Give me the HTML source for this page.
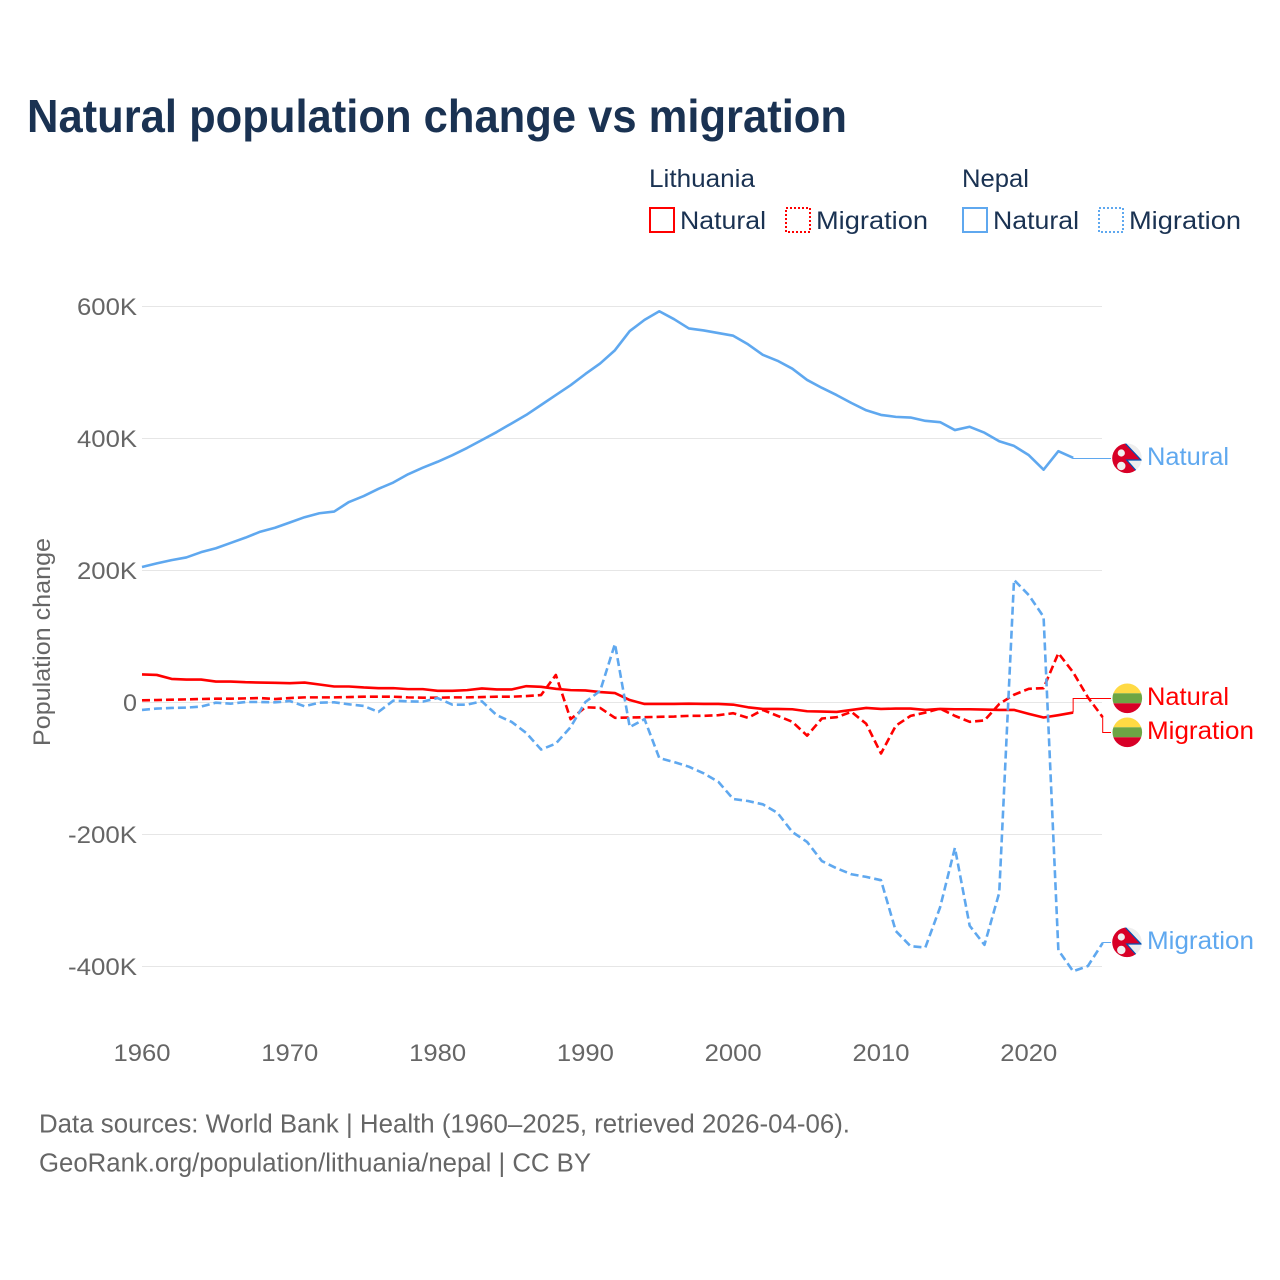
<!DOCTYPE html>
<html lang="en">
<head>
<meta charset="utf-8">
<title>Natural population change vs migration</title>
<style>
html,body{margin:0;padding:0;background:#fff}
svg{display:block}
text{font-family:"Liberation Sans",sans-serif}
</style>
</head>
<body>
<svg id="chart" xmlns="http://www.w3.org/2000/svg" width="1280" height="1280" viewBox="0 0 1280 1280">
  <defs>
    <clipPath id="flag-clip-a"><circle cx="1127" cy="458.3" r="14.8"/></clipPath>
    <clipPath id="flag-clip-b"><circle cx="1127.3" cy="698.3" r="14.8"/></clipPath>
    <clipPath id="flag-clip-c"><circle cx="1127.3" cy="732.3" r="14.8"/></clipPath>
    <clipPath id="flag-clip-d"><circle cx="1127" cy="942.3" r="14.8"/></clipPath>
  </defs>
  <rect x="0" y="0" width="1280" height="1280" fill="#ffffff"/>
  <text x="27" y="132" font-size="46" font-weight="700" fill="#1a3252" textLength="820" lengthAdjust="spacingAndGlyphs">Natural population change vs migration</text>

  <g font-size="25" fill="#1a3252">
    <text x="649" y="187" textLength="106" lengthAdjust="spacingAndGlyphs">Lithuania</text>
    <text x="962" y="187" textLength="67" lengthAdjust="spacingAndGlyphs">Nepal</text>
    <rect x="650" y="208" width="24" height="24" fill="none" stroke="#ff0000" stroke-width="2"/>
    <text x="680" y="229" textLength="86" lengthAdjust="spacingAndGlyphs">Natural</text>
    <rect x="786" y="208" width="24" height="24" fill="none" stroke="#ff0000" stroke-width="2" stroke-dasharray="2,2"/>
    <text x="816" y="229" textLength="112" lengthAdjust="spacingAndGlyphs">Migration</text>
    <rect x="963" y="208" width="24" height="24" fill="none" stroke="#5fa8ef" stroke-width="2"/>
    <text x="993" y="229" textLength="86" lengthAdjust="spacingAndGlyphs">Natural</text>
    <rect x="1099" y="208" width="24" height="24" fill="none" stroke="#5fa8ef" stroke-width="2" stroke-dasharray="2,2"/>
    <text x="1129" y="229" textLength="112" lengthAdjust="spacingAndGlyphs">Migration</text>
  </g>

  <g id="grid"></g>
  <g id="y-ticks"></g>
  <g id="x-ticks"></g>
  <text transform="translate(50,746) rotate(-90)" font-size="24" fill="#666666" textLength="208" lengthAdjust="spacingAndGlyphs">Population change</text>
  <g id="series"></g>

  <g clip-path="url(#flag-clip-a)">
    <circle cx="1127" cy="458.3" r="15" fill="#eeeeee"/>
    <polygon points="1110,440 1125,443 1141,460 1126.7,460 1137.3,472 1137.3,476 1110,476" fill="#d80027" stroke="none"/>
    <polyline points="1125,443 1141,460 1126.7,460 1137.3,472" fill="none" stroke="#0052b4" stroke-width="1.2"/>
    <circle cx="1121.3" cy="453" r="3.6" fill="#f0f0f0"/>
    <circle cx="1121.3" cy="466" r="4.2" fill="#f0f0f0"/>
  </g>
  <g clip-path="url(#flag-clip-b)">
    <rect x="1112" y="683" width="31" height="10.3" fill="#ffda44"/>
    <rect x="1112" y="693.3" width="31" height="10" fill="#6da544"/>
    <rect x="1112" y="703.3" width="31" height="11" fill="#d80027"/>
  </g>
  <g clip-path="url(#flag-clip-c)">
    <rect x="1112" y="717" width="31" height="10.3" fill="#ffda44"/>
    <rect x="1112" y="727.3" width="31" height="10" fill="#6da544"/>
    <rect x="1112" y="737.3" width="31" height="11" fill="#d80027"/>
  </g>
  <g clip-path="url(#flag-clip-d)">
    <circle cx="1127" cy="942.3" r="15" fill="#eeeeee"/>
    <polygon points="1110,924 1125,927 1141,944 1126.7,944 1137.3,956 1137.3,960 1110,960" fill="#d80027" stroke="none"/>
    <polyline points="1125,927 1141,944 1126.7,944 1137.3,956" fill="none" stroke="#0052b4" stroke-width="1.2"/>
    <circle cx="1121.3" cy="937" r="3.6" fill="#f0f0f0"/>
    <circle cx="1121.3" cy="950" r="4.2" fill="#f0f0f0"/>
  </g>

  <text x="1147" y="465" font-size="25" fill="#5fa8ef" textLength="82" lengthAdjust="spacingAndGlyphs">Natural</text>
  <text x="1147" y="705" font-size="25" fill="#ff0000" textLength="82" lengthAdjust="spacingAndGlyphs">Natural</text>
  <text x="1147" y="739" font-size="25" fill="#ff0000" textLength="107" lengthAdjust="spacingAndGlyphs">Migration</text>
  <text x="1147" y="949" font-size="25" fill="#5fa8ef" textLength="107" lengthAdjust="spacingAndGlyphs">Migration</text>

  <text x="39" y="1132.5" font-size="25.5" fill="#666666" textLength="811" lengthAdjust="spacingAndGlyphs">Data sources: World Bank | Health (1960–2025, retrieved 2026-04-06).</text>
  <text x="39" y="1171.5" font-size="25.5" fill="#666666" textLength="552" lengthAdjust="spacingAndGlyphs">GeoRank.org/population/lithuania/nepal | CC BY</text>
</svg>
<script>
const years = [1960,1961,1962,1963,1964,1965,1966,1967,1968,1969,1970,1971,1972,1973,1974,1975,1976,1977,1978,1979,1980,1981,1982,1983,1984,1985,1986,1987,1988,1989,1990,1991,1992,1993,1994,1995,1996,1997,1998,1999,2000,2001,2002,2003,2004,2005,2006,2007,2008,2009,2010,2011,2012,2013,2014,2015,2016,2017,2018,2019,2020,2021,2022,2023,2024,2025];
const lithuaniaNatural = [41.7,41,35,34,34,31,31,30,29.5,29,28.5,29.5,26.5,23.5,23.5,22,21,21,19.5,19.5,17,17,18,20.5,19,19,24,23,20,18,17.5,15,13.5,3,-3,-3,-3,-2.5,-3,-3,-4,-8,-10.5,-10.5,-11,-14,-14.5,-15,-12,-9,-10.5,-10,-10,-12,-10.5,-11,-11,-11.5,-12,-12,-18,-23.5,-20,-16];
const lithuaniaMigration = [2.5,3,3.5,4,4.5,5,5,5.5,6,4.5,6,7,7,7,7.5,8,8,8,7,6.5,6.5,7,7,7.5,8,8,9,10.5,41,-26,-8,-9,-24,-23.5,-23,-22.5,-22,-21,-21,-20,-17,-24,-12,-21,-30,-51,-25,-23,-15,-33,-78,-36,-21,-16,-10,-21,-30,-28,-3,11,20,21,74,45,7,-23];
const nepalNatural = [204.5,210,215,219,227,233,241,249,258,264,272,280,286,288.5,303,312,323,332.5,345,355,364,374,385,397,409,422,435,450,465,480,497,513,533,562,579,592,580,566,563,559,555,542,526,517,505,488,476,465,453,442,435,432,431,426,424,412,417,408,395,388,374,352,380,370];
const nepalMigration = [-12,-10,-9,-8.5,-7,-1,-2.5,0,0,-0.5,1.5,-6.5,-1,-0.5,-3.5,-6,-15,2,1,0.5,6,-4,-4,1,-20,-30,-47,-72,-63,-38,0,17,88,-38,-26,-85,-91,-98,-108,-121,-147,-150,-155,-168,-197,-212,-241,-252,-261,-265,-270,-347,-370,-372,-311,-221,-339,-368,-289,185,162,129,-376,-408,-400,-365];
const yTickValues = [600,400,200,0,-200,-400];
const yTickLabels = ["600K","400K","200K","0","-200K","-400K"];
const xTickValues = [1960,1970,1980,1990,2000,2010,2020];
const xTickLabels = ["1960","1970","1980","1990","2000","2010","2020"];

const SVG_NS = "http://www.w3.org/2000/svg";
const RED = "#ff0000";
const BLUE = "#5fa8ef";
const DASH = "8,4";
const LINE_WIDTH = 2.6;

function xScale(year) { return 142 + (year - 1960) * 14.78; }
function yScale(value) { return 702 - value * 0.66; }

function make(tag, attrs, parent) {
  const el = document.createElementNS(SVG_NS, tag);
  for (const k in attrs) el.setAttribute(k, attrs[k]);
  parent.appendChild(el);
  return el;
}

const gridG = document.getElementById("grid");
const yG = document.getElementById("y-ticks");
const xG = document.getElementById("x-ticks");
const seriesG = document.getElementById("series");

yTickValues.forEach(function (v, i) {
  const py = Math.round(yScale(v)) + 0.5;
  const line = make("line", { x1: 142, x2: 1102, y1: py, y2: py, stroke: "#e6e6e6", "stroke-width": 1 }, gridG);
  
  
  const label = yTickLabels[i];
  const t = make("text", { x: 137, y: yScale(v) + 9, "text-anchor": "end", "font-size": 24, fill: "#666666" }, yG);
  
  
  t.textContent = label;
  t.setAttribute("textLength", label === "0" ? 14 : (label.length === 5 ? 69 : 60));
  t.setAttribute("lengthAdjust", "spacingAndGlyphs");
});

xTickValues.forEach(function (v, i) {
  const t = make("text", { x: xScale(v), y: 1061, "text-anchor": "middle", "font-size": 24, fill: "#666666", textLength: 57, lengthAdjust: "spacingAndGlyphs" }, xG);
  
  
  t.textContent = xTickLabels[i];
});

function pathFor(values) {
  return values.map(function (v, i) {
    return (i ? "L" : "M") + xScale(years[i]).toFixed(2) + " " + yScale(v).toFixed(2);
  }).join("");
}
function elbow(values, endY) {
  const i = values.length - 1;
  const px = xScale(years[i]);
  const py = yScale(values[i]);
  return "M" + px.toFixed(2) + " " + py.toFixed(2) + "V" + endY + "H1111";
}

const lineLN = make("path", { d: pathFor(lithuaniaNatural), fill: "none", stroke: RED, "stroke-width": LINE_WIDTH, "stroke-linejoin": "round" }, seriesG);


const lineLM = make("path", { d: pathFor(lithuaniaMigration), fill: "none", stroke: RED, "stroke-width": LINE_WIDTH, "stroke-dasharray": DASH, "stroke-linejoin": "round" }, seriesG);


const lineNN = make("path", { d: pathFor(nepalNatural), fill: "none", stroke: BLUE, "stroke-width": LINE_WIDTH, "stroke-linejoin": "round" }, seriesG);


const lineNM = make("path", { d: pathFor(nepalMigration), fill: "none", stroke: BLUE, "stroke-width": LINE_WIDTH, "stroke-dasharray": DASH, "stroke-linejoin": "round" }, seriesG);



const connLN = make("path", { d: elbow(lithuaniaNatural, 698.5), fill: "none", stroke: RED, "stroke-width": 1 }, seriesG);


const connLM = make("path", { d: elbow(lithuaniaMigration, 732.5), fill: "none", stroke: RED, "stroke-width": 1 }, seriesG);


const connNN = make("path", { d: elbow(nepalNatural, 458.5), fill: "none", stroke: BLUE, "stroke-width": 1 }, seriesG);


const connNM = make("path", { d: elbow(nepalMigration, 942.5), fill: "none", stroke: BLUE, "stroke-width": 1 }, seriesG);


</script>
</body>
</html>
